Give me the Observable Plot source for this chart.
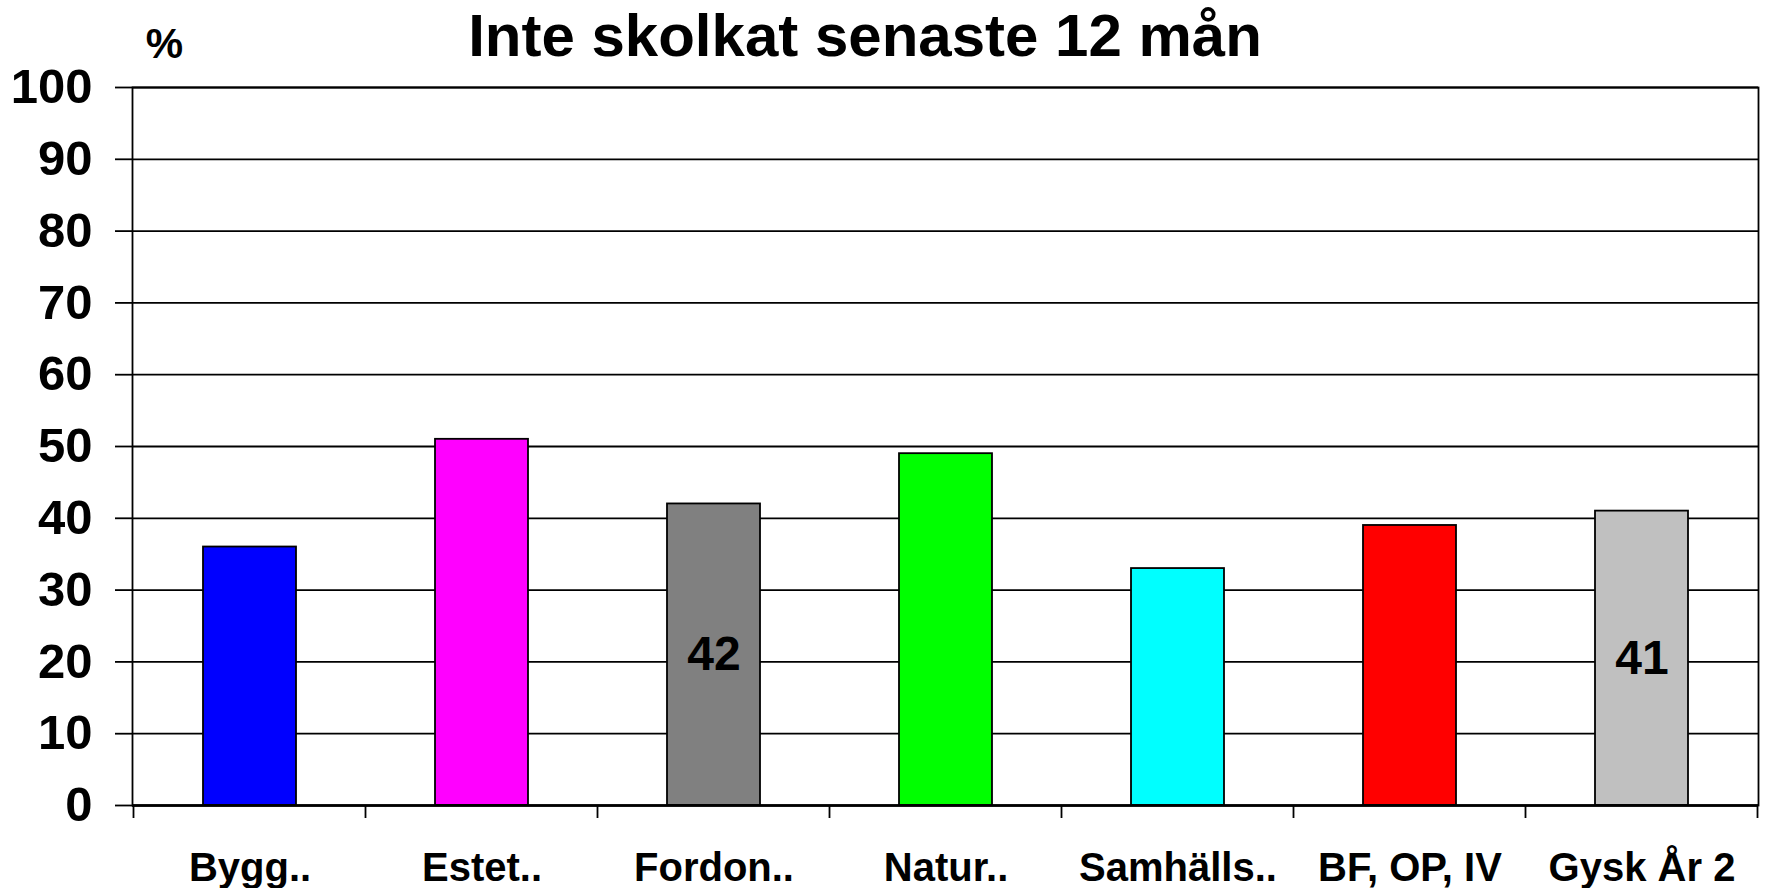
<!DOCTYPE html>
<html>
<head>
<meta charset="utf-8">
<script src="https://cdn.jsdelivr.net/npm/d3@7"></script>
<script src="https://cdn.jsdelivr.net/npm/@observablehq/plot@0.6"></script>
<style>
  html, body { margin: 0; padding: 0; background: #fff; }
  #wrap { position: relative; width: 1765px; height: 888px; overflow: hidden; }
  #title {
    position: absolute; left: 0; top: 6px; width: 1730px; text-align: center;
    font-family: "Liberation Sans", Arial, sans-serif; font-weight: bold;
    font-size: 60px; line-height: 60px; color: #000; white-space: nowrap;
  }
</style>
</head>
<body>
<div id="wrap">
  <div id="chart"></div>
  <div id="title">Inte skolkat senaste 12 mån</div>
</div>
<script>
const categories = ["Bygg..", "Estet..", "Fordon..", "Natur..", "Samhälls..", "BF, OP, IV", "Gysk År 2"];
const values = [36, 51, 42, 49, 33, 39, 41];
const colors = ["#0000FF", "#FF00FF", "#808080", "#00FF00", "#00FFFF", "#FF0000", "#C0C0C0"];
const labeled = ["Fordon..", "Gysk År 2"];
const yTicks = [0, 10, 20, 30, 40, 50, 60, 70, 80, 90, 100];
const yUnit = "%";

const rows = categories.map((c, i) => ({cat: c, value: values[i], color: colors[i]}));
const labelRows = rows.filter(d => labeled.includes(d.cat));

const W = 1765, H = 888;
const mL = 132, mR = 7, mT = 87, mB = 83;

const chart = Plot.plot({
  width: W,
  height: H,
  marginLeft: mL,
  marginRight: mR,
  marginTop: mT,
  marginBottom: mB,
  style: {fontFamily: "Liberation Sans, Arial, sans-serif", fontWeight: "bold", color: "#000", background: "#fff"},
  x: {domain: categories, paddingInner: 0.6, paddingOuter: 0.3, align: 0.5},
  y: {domain: [0, 100]},
  marks: [
    Plot.ruleY(yTicks, {stroke: "#000", strokeWidth: 1.8}),
    Plot.barY(rows, {x: "cat", y: "value", fill: d => d.color, stroke: "#000", strokeWidth: 1.8}),
    Plot.frame({stroke: "#000", strokeWidth: 1.8}),
    Plot.ruleY([0], {stroke: "#000", strokeWidth: 2.6}),
    Plot.text(labelRows, {x: "cat", y: d => d.value / 2, text: d => String(d.value), fontSize: 48, fontWeight: "bold", fill: "#000", textAnchor: "middle", lineAnchor: "middle"}),
    Plot.axisY({ticks: yTicks, tickSize: 17, tickPadding: 23, fontSize: 49, fontWeight: "bold", tickFormat: d => String(d), label: null, strokeWidth: 1.8}),
    Plot.axisX({tickSize: 0, tickPadding: 47, fontSize: 40, fontWeight: "bold", label: null}),
    Plot.text([yUnit], {frameAnchor: "top-left", dx: 32, dy: -43, fontSize: 42, fontWeight: "bold", textAnchor: "middle", lineAnchor: "middle", fill: "#000"})
  ]
});

document.getElementById("chart").appendChild(chart);

// boundary tick marks between categories, placed via the plot's own x scale
const xs = chart.scale("x");
const step = xs.step != null ? xs.step : (W - mL - mR) / (categories.length - 0.6 + 0.6);
const bounds = categories.map(c => xs.apply(c) + (xs.bandwidth || 0) / 2 - step / 2);
bounds.push(xs.apply(categories[categories.length - 1]) + (xs.bandwidth || 0) / 2 + step / 2);
const y0 = chart.scale("y").apply(0);
d3.select(chart).append("g").attr("aria-label", "x boundary ticks")
  .selectAll("line").data(bounds).join("line")
  .attr("x1", d => d).attr("x2", d => d)
  .attr("y1", y0).attr("y2", y0 + 13)
  .attr("stroke", "#000").attr("stroke-width", 1.8);
</script>
</body>
</html>
